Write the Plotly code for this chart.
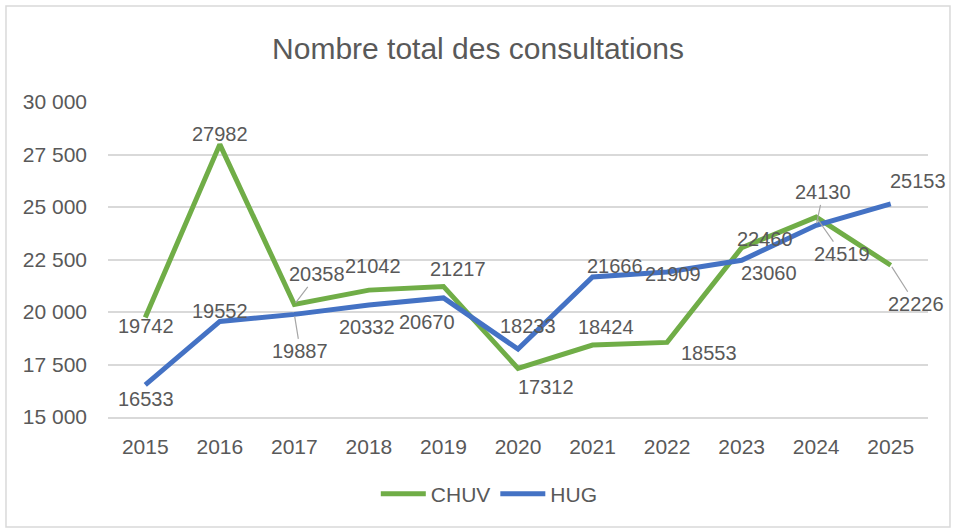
import plotly.graph_objects as go

years = ["2015", "2016", "2017", "2018", "2019", "2020", "2021", "2022", "2023", "2024", "2025"]
chuv = [19742, 27982, 20358, 21042, 21217, 17312, 18424, 18553, 23060, 24519, 22226]
hug = [16533, 19552, 19887, 20332, 20670, 18233, 21666, 21909, 22460, 24130, 25153]

# label offsets (pixels) relative to each point, and whether a leader line is drawn
chuv_dx = [1, 0, 23, 4, 15, 28, 13, 42, 27, 26, 25]
chuv_dy = [9, -10, -30, -24, -17, 19, -18, 11, 25, 37, 39]
chuv_lead = [0, 0, 1, 0, 0, 0, 0, 0, 0, 1, 1]
hug_dx = [1, 0, 6, -2, -16, 10, 22, 6, 23, 7, 27]
hug_dy = [14, -10, 37, 22, 24, -23, -11, 2, -21, -33, -23]
hug_lead = [0, 0, 1, 0, 0, 0, 0, 0, 0, 1, 0]

GREEN = "#70AD47"
BLUE = "#4472C4"
TXT = "#595959"
FONT = "Liberation Sans Narrow, Arial Narrow, Liberation Sans, Arial, sans-serif"

fig = go.Figure()
fig.add_trace(go.Scatter(x=years, y=chuv, name="CHUV", mode="lines",
                         line=dict(color=GREEN, width=5)))
fig.add_trace(go.Scatter(x=years, y=hug, name="HUG", mode="lines",
                         line=dict(color=BLUE, width=5)))

for vals, dxs, dys, leads in [(chuv, chuv_dx, chuv_dy, chuv_lead), (hug, hug_dx, hug_dy, hug_lead)]:
    for i, (v, dx, dy, ld) in enumerate(zip(vals, dxs, dys, leads)):
        if ld:
            fig.add_annotation(x=i, y=v, xref="x", yref="y", text=str(v),
                               showarrow=True, arrowhead=0, arrowwidth=1.2,
                               arrowcolor="#a6a6a6", ax=dx, ay=dy, standoff=2,
                               font=dict(size=20, color=TXT, family=FONT))
        else:
            fig.add_annotation(x=i, y=v, xref="x", yref="y", text=str(v),
                               showarrow=False, xshift=dx, yshift=-dy,
                               font=dict(size=20, color=TXT, family=FONT))

fig.update_layout(
    width=956, height=532,
    margin=dict(l=108, r=28, t=102, b=115),
    paper_bgcolor="white", plot_bgcolor="white",
    separators=". ",
    font=dict(family=FONT, color=TXT, size=21),
    title=dict(text="Nombre total des consultations", x=0.5, xanchor="center",
               y=1 - 48 / 532, yanchor="middle", yref="container",
               font=dict(size=30, color=TXT, family=FONT)),
    xaxis=dict(type="category", range=[-0.5, 10.5], showgrid=False,
               showline=True, linecolor="#d9d9d9", linewidth=1.5,
               ticks="", tickfont=dict(size=21, color=TXT), ticklabelstandoff=10),
    yaxis=dict(range=[15000, 30000], dtick=2500, tickformat=",d",
               showgrid=True, gridcolor="#d9d9d9", gridwidth=1.5,
               zeroline=False, showline=False, ticks="",
               tickfont=dict(size=21, color=TXT), ticklabelstandoff=20),
    legend=dict(orientation="h", x=0.465, xanchor="center", y=-0.245, yanchor="middle",
                font=dict(size=21, color=TXT), itemwidth=45, traceorder="normal"),
    shapes=[dict(type="rect", xref="paper", yref="paper",
                 x0=-0.1244, x1=1.0268, y0=-0.349, y1=1.3048,
                 line=dict(color="#d9d9d9", width=1.5), layer="below")],
)

fig.write_html("out.html", config={"displayModeBar": False},
               post_script="document.body.style.margin='0';")
